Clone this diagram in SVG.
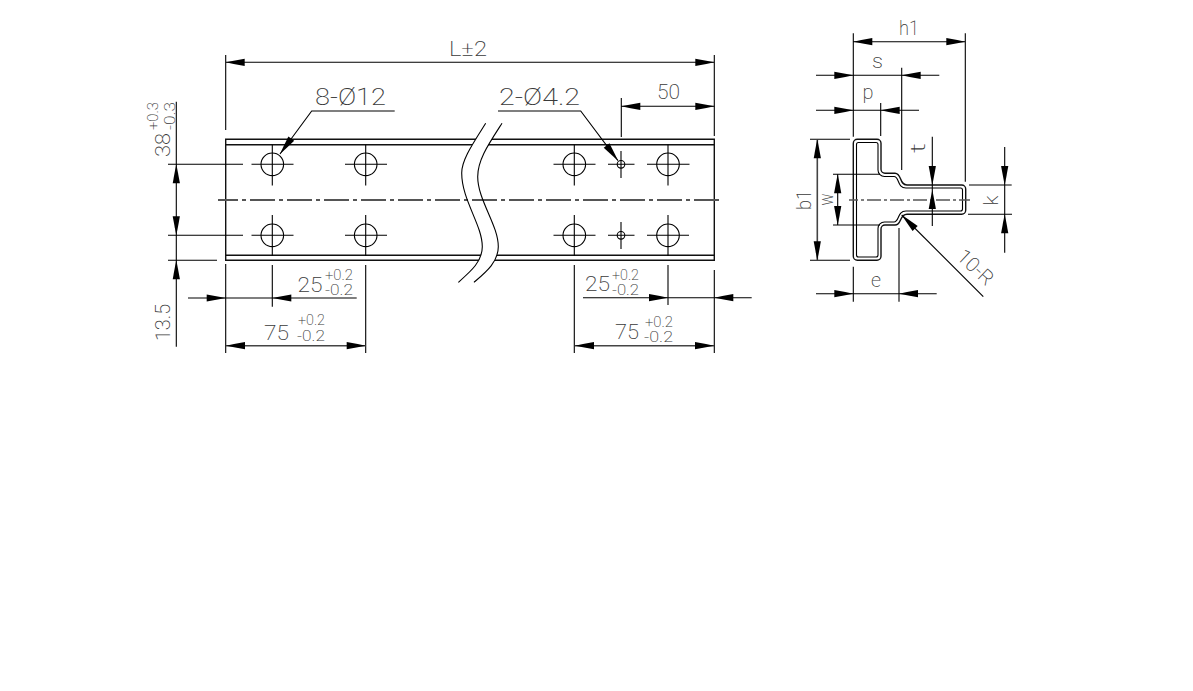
<svg xmlns="http://www.w3.org/2000/svg" xmlns:xlink="http://www.w3.org/1999/xlink" width="1193" height="691" viewBox="0 0 1193 691">
<style>
.l{stroke:#000;stroke-width:1.1;fill:none}
.b{stroke:#111;stroke-width:1.4;fill:none}
.d{stroke:#444;stroke-width:1.6}
.c{stroke:#555;stroke-width:1.8;fill:none;stroke-dasharray:25 4 4 4;stroke-dashoffset:5}
.t{font-family:"Roboto","Liberation Sans",sans-serif;font-weight:200;fill:#3a3a3a;font-size:20px}
.s{font-size:14px}
.m{font-size:20px}
.x{font-size:24px}
</style>
<defs>
<path id="a" d="M0 0L8 -1.6L19 -3.6V3.6L8 1.6Z" fill="#000"/>
</defs>
<rect width="1193" height="691" fill="#fff"/>
<g id="rail">
<path class="b" d="M225.7 139.3H714.3V260.3H225.7ZM225.7 144.7H714.3M225.7 255.3H714.3"/>
<path fill="#fff" d="M485.7 123.3C472 145 461.7 160 461.7 173C461.7 200 482.3 225 482.3 246.7C482.3 262 470 272 458.3 282.3H474C486 272 498.3 262 498.3 246.7C498.3 225 477.7 200 477.7 176.7C477.7 160 488 145 502 123.3Z"/>
<path class="c" d="M218 200H720"/>
<path class="l" d="M485.7 123.3C472 145 461.7 160 461.7 173C461.7 200 482.3 225 482.3 246.7C482.3 262 470 272 458.3 282.3"/>
<path class="l" d="M502 123.3C488 145 477.7 160 477.7 176.7C477.7 200 498.3 225 498.3 246.7C498.3 262 486 272 474 282.3"/>
</g>
<g id="holes" class="l">
<circle cx="272.3" cy="164.3" r="11.3"/><circle cx="365.7" cy="164.3" r="11.3"/><circle cx="574.3" cy="164.3" r="11.3"/><circle cx="668" cy="164.3" r="11.3"/>
<circle cx="272.3" cy="235.3" r="11.3"/><circle cx="365.7" cy="235.3" r="11.3"/><circle cx="574.3" cy="235.3" r="11.3"/><circle cx="668" cy="235.3" r="11.3"/>
<circle cx="621" cy="164.3" r="3.8"/><circle cx="621" cy="235.3" r="3.8"/>
<path d="M251.5 164.3H293.5M272.3 144.7V185.5M345 164.3H387M365.7 144.7V185.5M553.5 164.3H595.5M574.3 144.7V185.5M647 164.3H689.5M668 144.7V185.5"/>
<path d="M251.5 235.3H293.5M272.3 215V256M345 235.3H387M365.7 215V256M553.5 235.3H595.5M574.3 215V256M647 235.3H689M668 215V256"/>
<path d="M608 164.3H634.5M621 151V178M608 235.3H634.5M621 222V249"/>
</g>
<g id="rail-dimensions">
<path class="l" d="M225.7 55V130M714.3 55V136M225.7 62.3H714.3"/>
<path class="l" d="M394.7 111H311.7L280 154M498 111H580.7L618 160.7"/>
<path class="l" d="M621.3 98V137M621.3 106.3H714.3"/>
<path class="l" d="M176.3 101.7V346.7M168 164.3H243M168 235.3H243M168 260.3H217"/>
<path class="l" d="M272.3 265V306.7M365.7 265V353M225.7 264V353M574.3 265V353M668 265V305M714.3 270V353"/>
<path class="l" d="M188 298H356.7M583 297.7H751.7"/>
<path class="d" d="M226 345.7H365.7M575 345.7H714"/>
<use xlink:href="#a" transform="translate(225.7 62.3)"/>
<use xlink:href="#a" transform="translate(714.3 62.3) rotate(180)"/>
<use xlink:href="#a" transform="translate(621.3 106.3)"/>
<use xlink:href="#a" transform="translate(714.3 106.3) rotate(180)"/>
<use xlink:href="#a" transform="translate(280 154) rotate(-53.6)"/>
<use xlink:href="#a" transform="translate(618 160.7) rotate(233.1)"/>
<use xlink:href="#a" transform="translate(176.3 164.3) rotate(90)"/>
<use xlink:href="#a" transform="translate(176.3 235.3) rotate(-90)"/>
<use xlink:href="#a" transform="translate(176.3 260.3) rotate(90)"/>
<use xlink:href="#a" transform="translate(225.7 298) rotate(180)"/>
<use xlink:href="#a" transform="translate(272.3 298)"/>
<use xlink:href="#a" transform="translate(668 297.7) rotate(180)"/>
<use xlink:href="#a" transform="translate(714.3 297.7)"/>
<use xlink:href="#a" transform="translate(226 345.7)"/>
<use xlink:href="#a" transform="translate(365.7 345.7) rotate(180)"/>
<use xlink:href="#a" transform="translate(575 345.7)"/>
<use xlink:href="#a" transform="translate(714 345.7) rotate(180)"/>
</g>
<g id="rail-labels">
<text class="t m" x="449" y="56" textLength="38" lengthAdjust="spacingAndGlyphs">L±2</text>
<text class="t x" x="315" y="105" textLength="71" lengthAdjust="spacingAndGlyphs">8-Ø12</text>
<text class="t x" x="499" y="105" textLength="81" lengthAdjust="spacingAndGlyphs">2-Ø4.2</text>
<text class="t m" x="657" y="99" textLength="23" lengthAdjust="spacingAndGlyphs">50</text>
<text class="t" transform="translate(169.5 157) rotate(-90)" textLength="24" lengthAdjust="spacingAndGlyphs">38</text>
<text class="t s" transform="translate(158 130) rotate(-90)" textLength="28" lengthAdjust="spacingAndGlyphs">+0.3</text>
<text class="t s" transform="translate(175 130) rotate(-90)" textLength="28" lengthAdjust="spacingAndGlyphs">-0.3</text>
<text class="t" transform="translate(169.5 341) rotate(-90)" textLength="37" lengthAdjust="spacingAndGlyphs">13.5</text>
<text class="t" x="297.5" y="292" textLength="25" lengthAdjust="spacingAndGlyphs">25</text>
<text class="t s" x="325" y="280" textLength="28" lengthAdjust="spacingAndGlyphs">+0.2</text>
<text class="t s" x="325" y="295" textLength="28" lengthAdjust="spacingAndGlyphs">-0.2</text>
<text class="t" x="264" y="339.5" textLength="25" lengthAdjust="spacingAndGlyphs">75</text>
<text class="t s" x="298" y="325" textLength="27" lengthAdjust="spacingAndGlyphs">+0.2</text>
<text class="t s" x="297" y="341" textLength="28" lengthAdjust="spacingAndGlyphs">-0.2</text>
<text class="t" x="585" y="291" textLength="25" lengthAdjust="spacingAndGlyphs">25</text>
<text class="t s" x="612" y="280" textLength="27" lengthAdjust="spacingAndGlyphs">+0.2</text>
<text class="t s" x="612" y="295" textLength="27" lengthAdjust="spacingAndGlyphs">-0.2</text>
<text class="t" x="615" y="339" textLength="24" lengthAdjust="spacingAndGlyphs">75</text>
<text class="t s" x="645" y="326.5" textLength="28" lengthAdjust="spacingAndGlyphs">+0.2</text>
<text class="t s" x="644" y="341.5" textLength="29" lengthAdjust="spacingAndGlyphs">-0.2</text>
</g>
<g id="profile">
<path class="b" d="M857.3 139.3H877A4 4 0 0 1 881 143.3V169.3A4 4 0 0 0 885 173.3H895C902 173.3 899 185 907 185H961.7A4 4 0 0 1 965.7 189V210.3A4 4 0 0 1 961.7 214.3H907C899 214.3 902 225 895 225H885A4 4 0 0 0 881 229V256.3A4 4 0 0 1 877 260.3H857.3A4 4 0 0 1 853.3 256.3V143.3A4 4 0 0 1 857.3 139.3Z"/>
<path class="l" d="M858.5 142.5H876A2 2 0 0 1 878 144.5V170A6.5 6.5 0 0 0 884.5 176.5H894C899.5 176.5 897 188 906 188H960.5A2 2 0 0 1 962.5 190V209A2 2 0 0 1 960.5 211H906C897 211 899.5 222 894 222H884.5A6.5 6.5 0 0 0 878 228.5V255A2 2 0 0 1 876 257H858.5A2 2 0 0 1 856.5 255V144.5A2 2 0 0 1 858.5 142.5Z"/>
<path class="c" style="stroke-dasharray:14 3 3 3;stroke-width:1.4" d="M849 200H970"/>
</g>
<g id="profile-dimensions">
<path class="l" d="M853.3 33.3V136.7M965.3 33.3V181.7M853.3 41.7H965.3"/>
<path class="l" d="M816 75.3H939.3M816 110.3H919M880.7 103V136M901.7 67.7V170"/>
<path class="l" d="M816 293.7H936.7M853.3 266.7V301.7M899 228V301.7"/>
<path class="l" d="M810 139.3H850M810 260.3H850M833 174.3H880M833 225H880"/>
<path class="d" d="M817.3 139.3V260.3"/>
<path class="l" d="M837.7 174.3V225M932.3 136.7V226M1004.7 147V252.7M969 185H1011.7M968 214.3H1012"/>
<path class="l" d="M901.7 215L983.3 296.7"/>
<use xlink:href="#a" transform="translate(853.3 41.7)"/>
<use xlink:href="#a" transform="translate(965.3 41.7) rotate(180)"/>
<use xlink:href="#a" transform="translate(853.3 75.3) rotate(180)"/>
<use xlink:href="#a" transform="translate(901.7 75.3)"/>
<use xlink:href="#a" transform="translate(853.3 110.3) rotate(180)"/>
<use xlink:href="#a" transform="translate(880.7 110.3)"/>
<use xlink:href="#a" transform="translate(853.3 293.7) rotate(180)"/>
<use xlink:href="#a" transform="translate(899 293.7)"/>
<use xlink:href="#a" transform="translate(817.3 139.3) rotate(90)"/>
<use xlink:href="#a" transform="translate(817.3 260.3) rotate(-90)"/>
<use xlink:href="#a" transform="translate(837.7 174.3) rotate(90)"/>
<use xlink:href="#a" transform="translate(837.7 225) rotate(-90)"/>
<use xlink:href="#a" transform="translate(932.3 185) rotate(-90)"/>
<use xlink:href="#a" transform="translate(932.3 190) rotate(90)"/>
<use xlink:href="#a" transform="translate(1004.7 185) rotate(-90)"/>
<use xlink:href="#a" transform="translate(1004.7 214.3) rotate(90)"/>
<use xlink:href="#a" transform="translate(901.7 215) rotate(45)"/>
</g>
<g id="profile-labels">
<text class="t m" x="899" y="35" textLength="20" lengthAdjust="spacingAndGlyphs">h1</text>
<text class="t m" x="872" y="68" textLength="11" lengthAdjust="spacingAndGlyphs">s</text>
<text class="t m" x="862.5" y="99" textLength="11" lengthAdjust="spacingAndGlyphs">p</text>
<text class="t m" x="871" y="287" textLength="10" lengthAdjust="spacingAndGlyphs">e</text>
<text class="t m" transform="translate(811 210) rotate(-90)" textLength="20" lengthAdjust="spacingAndGlyphs">b1</text>
<text class="t m" transform="translate(833 205.5) rotate(-90)" textLength="12" lengthAdjust="spacingAndGlyphs">w</text>
<text class="t m" transform="translate(925 153) rotate(-90)" textLength="10" lengthAdjust="spacingAndGlyphs">t</text>
<text class="t m" transform="translate(998 205.5) rotate(-90)" textLength="10" lengthAdjust="spacingAndGlyphs">k</text>
<text class="t m" transform="translate(955.5 258) rotate(43)" textLength="42" lengthAdjust="spacingAndGlyphs">10-R</text>
</g>
</svg>
